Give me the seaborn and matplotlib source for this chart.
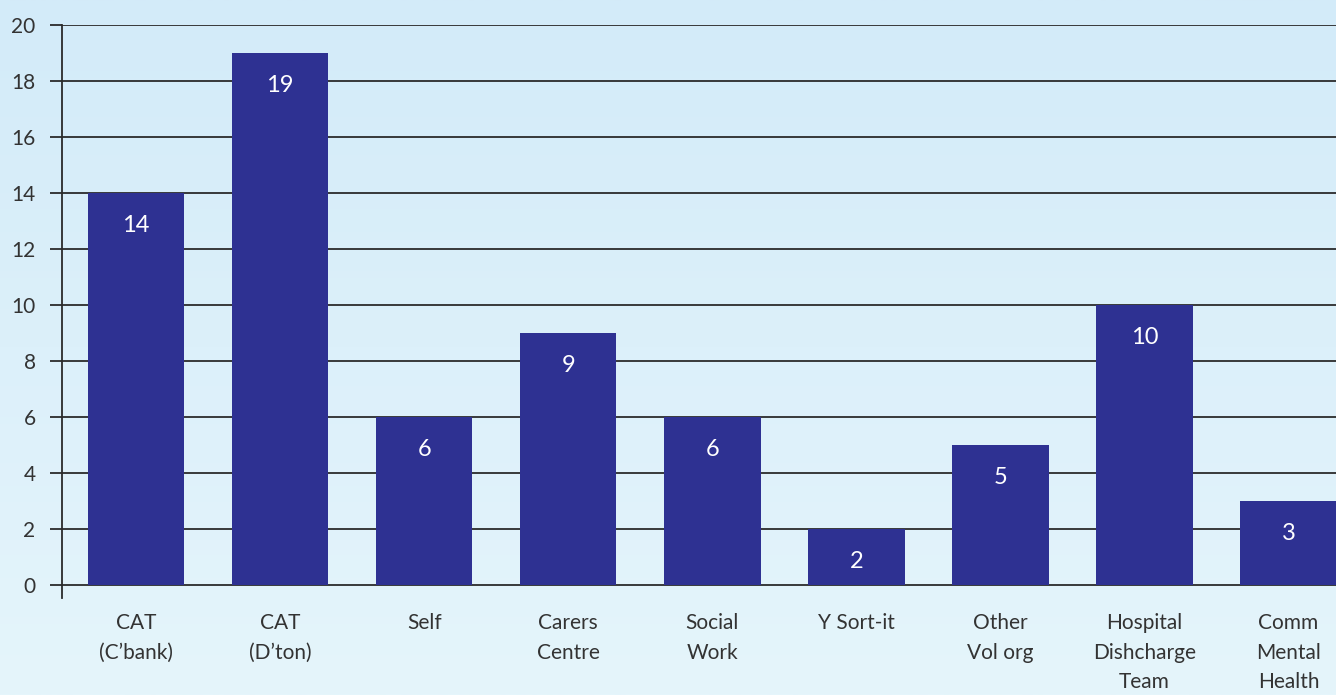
import numpy as np
import pandas as pd
import seaborn as sns
import matplotlib.pyplot as plt
from matplotlib.colors import LinearSegmentedColormap

# данные
categories = ["CAT\n(C\u2019bank)", "CAT\n(D\u2019ton)", "Self", "Carers\nCentre",
              "Social\nWork", "Y Sort-it", "Other\nVol org",
              "Hospital\nDishcharge\nTeam", "Comm\nMental\nHealth"]
values = [14, 19, 6, 9, 6, 2, 5, 10, 3]
yticks = list(range(0, 21, 2))

df = pd.DataFrame({"source": categories, "count": values})

sns.set_style("white")
plt.rcParams['font.family'] = ['Lato', 'DejaVu Sans']

fig = plt.figure(figsize=(13.36, 6.95), dpi=100)

# фон с градиентом
bg = fig.add_axes([0, 0, 1, 1], zorder=-10)
cmap = LinearSegmentedColormap.from_list("bg", ["#d3ebf9", "#e5f5fb"])
bg.imshow(np.linspace(0, 1, 256).reshape(-1, 1), aspect='auto', cmap=cmap,
          extent=[0, 1, 0, 1])
bg.axis('off')

ax = fig.add_axes([62 / 1336, 97 / 695, 1 - 62 / 1336, (598 - 25) / 695])
ax.patch.set_alpha(0)

sb = sns.barplot(data=df, x="source", y="count", color="#2e3192",
                 saturation=1, width=0.67, ax=ax, zorder=3,
                 edgecolor="none", linewidth=0)
ax.bar_label(ax.containers[0], padding=-31, color='white', fontsize=17)

ax.set_xlim(-0.514, 8.33)
ax.set_ylim(-0.45, 20)
ax.set_yticks(yticks)
ax.set_yticklabels([str(t) for t in yticks])
ax.yaxis.grid(True, color="#2b2b2b", linewidth=1.3)
ax.set_axisbelow(True)

for side in ['top', 'right', 'bottom']:
    ax.spines[side].set_visible(False)
ax.spines['left'].set_color("#2b2b2b")
ax.spines['left'].set_linewidth(1.3)

ax.tick_params(axis='y', left=True, length=9, width=1.3, color="#2b2b2b",
               pad=10, labelsize=15, labelcolor="#333333")
ax.tick_params(axis='x', length=0, pad=11, labelsize=15, labelcolor="#333333")
for lab in ax.get_xticklabels():
    lab.set_linespacing(1.6)
    lab.set_verticalalignment('top')

ax.set_xlabel('')
ax.set_ylabel('')

fig.savefig("out.png", dpi=100)
